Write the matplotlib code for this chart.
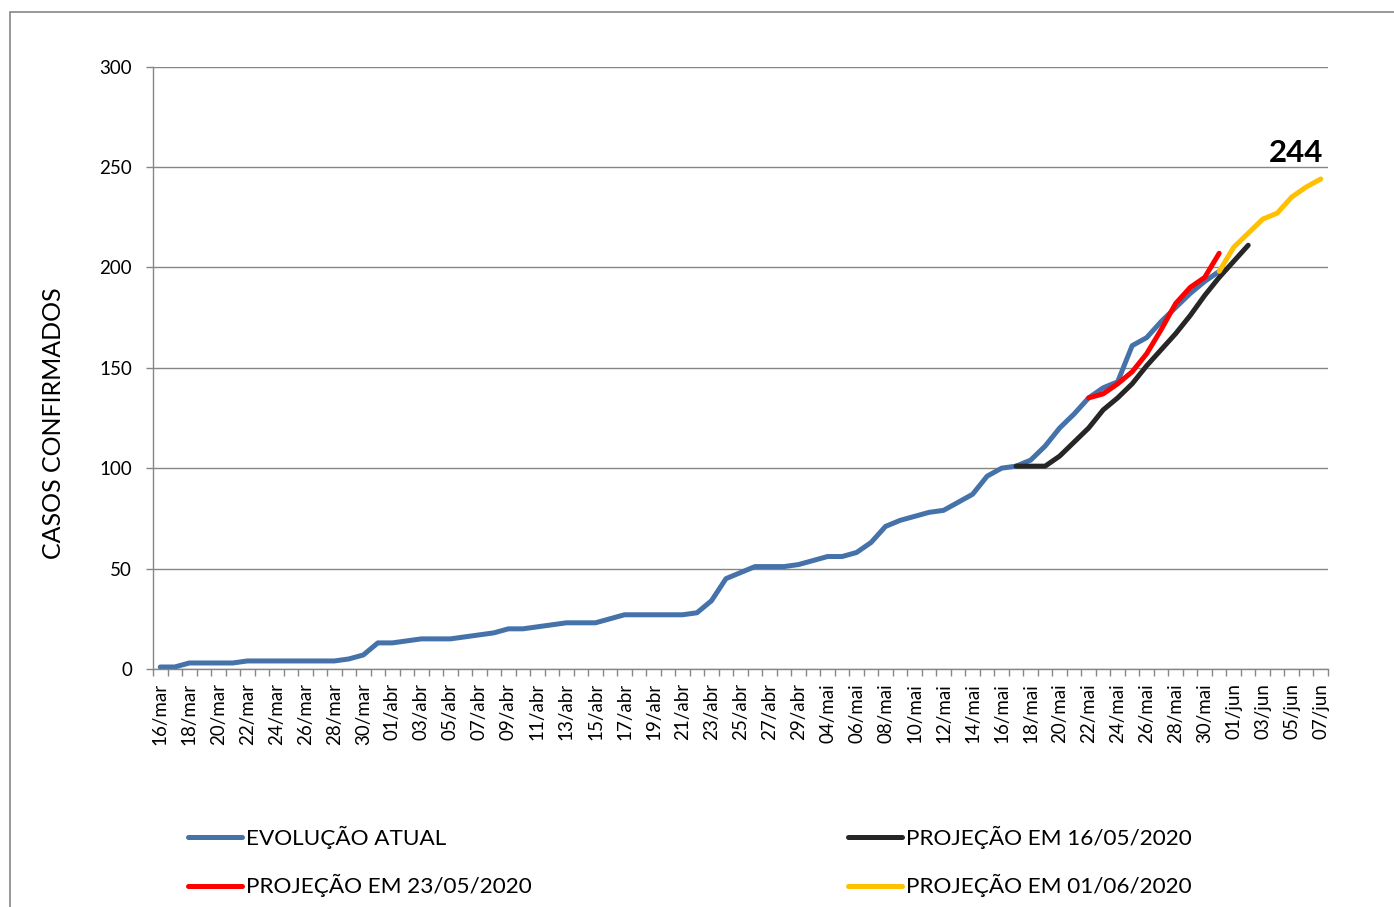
import numpy as np
import matplotlib
matplotlib.use("Agg")
import matplotlib.pyplot as plt
from matplotlib.patches import Rectangle
from matplotlib.lines import Line2D

plt.rcParams['font.family'] = ['Lato', 'DejaVu Sans']

# categorias do eixo x (datas sem o intervalo 01-03/mai)
dias = ([f"{d:02d}/mar" for d in range(16, 32)] +
        [f"{d:02d}/abr" for d in range(1, 31)] +
        [f"{d:02d}/mai" for d in range(4, 32)] +
        [f"{d:02d}/jun" for d in range(1, 8)])

# casos confirmados
evolucao = [1, 1, 3, 3, 3, 3, 4, 4, 4, 4, 4, 4, 4, 5, 7, 13, 13, 14, 15, 15,
            15, 16, 17, 18, 20, 20, 21, 22, 23, 23, 23, 25, 27, 27, 27, 27, 27, 28, 34, 45,
            48, 51, 51, 51, 52, 54, 56, 56, 58, 63, 71, 74, 76, 78, 79, 83, 87, 96, 100, 101,
            104, 111, 120, 127, 135, 140, 143, 161, 165, 173, 180, 187, 193, 198]
proj_1605 = [101, 101, 101, 106, 113, 120, 129, 135, 142, 151, 159, 167, 176, 186, 195, 203, 211]
proj_2305 = [135, 137, 142, 148, 157, 169, 182, 190, 195, 207]
proj_0106 = [198, 210, 217, 224, 227, 235, 240, 244]

ini_1605 = dias.index("17/mai")
ini_2305 = dias.index("22/mai")
ini_0106 = dias.index("31/mai")

cinza = '#868686'
c_azul = '#4672AA'
c_preto = '#262626'
c_verm = '#FF0000'
c_amar = '#FFC000'
lw = 3.6

fig = plt.figure(figsize=(13.94, 9.07), dpi=100)
ax = fig.add_axes([153/1394, 1-669/907, (1328-153)/1394, (669-66.5)/907])

x = np.arange(len(dias))
ax.plot(x[:len(evolucao)], evolucao, color=c_azul, lw=lw, solid_capstyle='round')
ax.plot(x[ini_1605:ini_1605+len(proj_1605)], proj_1605, color=c_preto, lw=lw, solid_capstyle='round')
ax.plot(x[ini_2305:ini_2305+len(proj_2305)], proj_2305, color=c_verm, lw=lw, solid_capstyle='round')
ax.plot(x[ini_0106:ini_0106+len(proj_0106)], proj_0106, color=c_amar, lw=lw, solid_capstyle='round')

ax.annotate(str(proj_0106[-1]), (x[-1], proj_0106[-1]), xytext=(1.5, 19),
            textcoords='offset points', ha='right', va='center',
            fontsize=22.5, fontweight='bold')

ax.set_xlim(-0.5, len(dias) - 0.5)
ax.set_ylim(0, 300)
ax.set_yticks(np.arange(0, 301, 50))
ax.yaxis.grid(True, color=cinza, lw=1.0)
ax.set_axisbelow(True)

ax.set_xticks(x[::2])
ax.set_xticklabels(dias[::2], rotation=90)
ax.set_xticks(np.arange(-0.5, len(dias), 1), minor=True)
ax.tick_params(axis='x', which='major', length=0, pad=10, labelsize=13.5)
ax.tick_params(axis='x', which='minor', length=5, color=cinza, width=1.0)
ax.tick_params(axis='y', length=5, color=cinza, width=1.0, pad=10, labelsize=13.5)

for s in ['top', 'right']:
    ax.spines[s].set_visible(False)
for s in ['left', 'bottom']:
    ax.spines[s].set_color(cinza)
    ax.spines[s].set_linewidth(1.0)

fig.text(54/1394, 1-423.5/907, 'CASOS CONFIRMADOS', rotation=90,
         ha='center', va='center', fontsize=18)

h_azul = Line2D([], [], color=c_azul, lw=lw, solid_capstyle='round')
h_verm = Line2D([], [], color=c_verm, lw=lw, solid_capstyle='round')
h_preto = Line2D([], [], color=c_preto, lw=lw, solid_capstyle='round')
h_amar = Line2D([], [], color=c_amar, lw=lw, solid_capstyle='round')

leg_kw = dict(loc='upper left', frameon=False, fontsize=16.2, borderpad=0,
              borderaxespad=0, handlelength=2.4, handletextpad=0.2, labelspacing=1.12)
fig.legend([h_azul, h_verm], ['EVOLUÇÃO ATUAL', 'PROJEÇÃO EM 23/05/2020'],
           bbox_to_anchor=(188/1394, 1-826/907), **leg_kw)
fig.legend([h_preto, h_amar], ['PROJEÇÃO EM 16/05/2020', 'PROJEÇÃO EM 01/06/2020'],
           bbox_to_anchor=(848/1394, 1-826/907), **leg_kw)

fig.patches.append(Rectangle((9.5/1394, -0.1), 2, 1.1 - 12/907, fill=False,
                             edgecolor=cinza, lw=1.2, transform=fig.transFigure))

fig.savefig('out.png', dpi=100)
